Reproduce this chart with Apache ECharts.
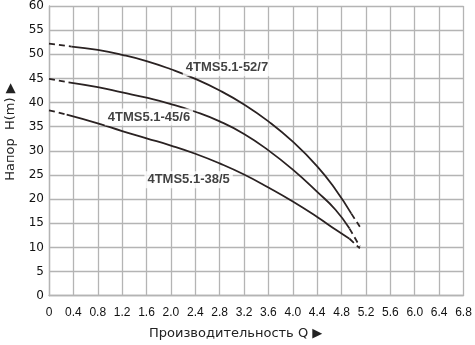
<!DOCTYPE html>
<html>
<head>
<meta charset="utf-8">
<script src="https://cdn.jsdelivr.net/npm/echarts@6/dist/echarts.min.js"></script>
<style>html,body{margin:0;padding:0;background:#fff}#c{width:475px;height:345px}</style>
</head>
<body>
<div id="c"></div>
<script>
// Q axis ticks and labels
const xTickLabels = ['0','0.4','0.8','1.2','1.6','2.0','2.4','2.8','3.2','3.6','4.0','4.4','4.8','5.2','5.6','6.0','6.4','6.8'];
const yTickLabels = ['0','5','10','15','20','25','30','35','40','45','50','55','60'];

// Pump 4TMS5.1-52/7
const p52Solid = [[0.37,51.6],[0.8,50.9],[1.2,49.9],[1.6,48.6],[2.0,46.9],[2.4,44.9],[2.8,42.5],[3.2,39.6],[3.6,36.1],[4.0,31.9],[4.4,26.8],[4.7,22.0],[4.96,17.0]];
const p52DashL = [[0,52.2],[0.37,51.6]];
const p52DashR = [[4.96,17.0],[5.1,14.3]];
// Pump 4TMS5.1-45/6
const p45Solid = [[0.32,44.2],[0.8,43.2],[1.2,42.1],[1.6,41.0],[2.0,39.7],[2.4,38.1],[2.8,36.1],[3.2,33.5],[3.6,30.1],[4.0,26.1],[4.4,21.5],[4.7,17.8],[4.93,13.9]];
const p45DashL = [[0,44.9],[0.32,44.2]];
const p45DashR = [[4.93,13.9],[5.1,10.2]];
// Pump 4TMS5.1-38/5
const p38Solid = [[0.29,37.5],[0.8,35.7],[1.2,34.1],[1.6,32.6],[2.0,31.1],[2.4,29.4],[2.8,27.4],[3.2,25.1],[3.6,22.4],[4.0,19.5],[4.4,16.3],[4.7,13.7],[4.93,11.8]];
const p38DashL = [[0,38.4],[0.29,37.5]];
const p38DashR = [[4.93,11.8],[5.1,9.8]];

const curveNames = ['4TMS5.1-52/7','4TMS5.1-45/6','4TMS5.1-38/5'];
const labelAnchors = [[2.92,47.2],[1.64,37.0],[2.29,24.0]];

const chart = echarts.init(document.getElementById('c'), null, {renderer:'canvas'});
const lineColor = '#2a2222';
const solid = d => ({type:'line', data:d, smooth:0.5, symbol:'none', lineStyle:{color:lineColor,width:1.8}, silent:true, z:3});
const dashed = d => ({type:'line', data:d, symbol:'none', lineStyle:{color:lineColor,width:1.8,type:[6,4]}, silent:true, z:3});

chart.setOption({
  animation:false,
  grid:{left:49,right:11.5,top:4,bottom:49.3,containLabel:false},
  xAxis:{type:'value',min:0,max:6.8,interval:0.4,
    axisLine:{show:true,lineStyle:{color:'#b4b4b4',width:1.3}},
    axisTick:{show:false},
    splitLine:{show:true,lineStyle:{color:'#b4b4b4',width:1.3}},
    axisLabel:{margin:11,fontSize:12,color:'#111',fontFamily:'Liberation Sans, Arial, sans-serif',
      formatter:(v)=>xTickLabels[Math.round(v/0.4)]}},
  yAxis:{type:'value',min:0,max:60,interval:5,
    axisLine:{show:true,lineStyle:{color:'#b4b4b4',width:1.3}},
    axisTick:{show:false},
    splitLine:{show:true,lineStyle:{color:'#b4b4b4',width:1.3}},
    axisLabel:{margin:5,fontSize:12,color:'#111',fontFamily:'DejaVu Sans, sans-serif',
      formatter:(v)=>yTickLabels[Math.round(v/5)]}},
  series:[
    solid(p52Solid),dashed(p52DashL),dashed(p52DashR),
    solid(p45Solid),dashed(p45DashL),dashed(p45DashR),
    solid(p38Solid),dashed(p38DashL),dashed(p38DashR),
    {type:'scatter',symbolSize:0,z:5,silent:true,
      data:labelAnchors.map((p,i)=>({value:p,name:curveNames[i]})),
      label:{show:true,position:'inside',formatter:(p)=>p.name,color:'#111',fontWeight:'bold',fontSize:13,
        fontFamily:'Liberation Sans, Arial, sans-serif',backgroundColor:'#fff',padding:[2,3]}}
  ],
  graphic:[
    {type:'text',left:149,top:327,style:{text:'Производительность Q ▶',font:'13px "DejaVu Sans", sans-serif',fill:'#222'}},
    {type:'text',x:4,y:132,rotation:Math.PI/2,style:{text:'Напор  H(m) ▶',font:'13px "DejaVu Sans", sans-serif',fill:'#222',align:'center',verticalAlign:'top'}}
  ]
});
</script>
</body>
</html>
